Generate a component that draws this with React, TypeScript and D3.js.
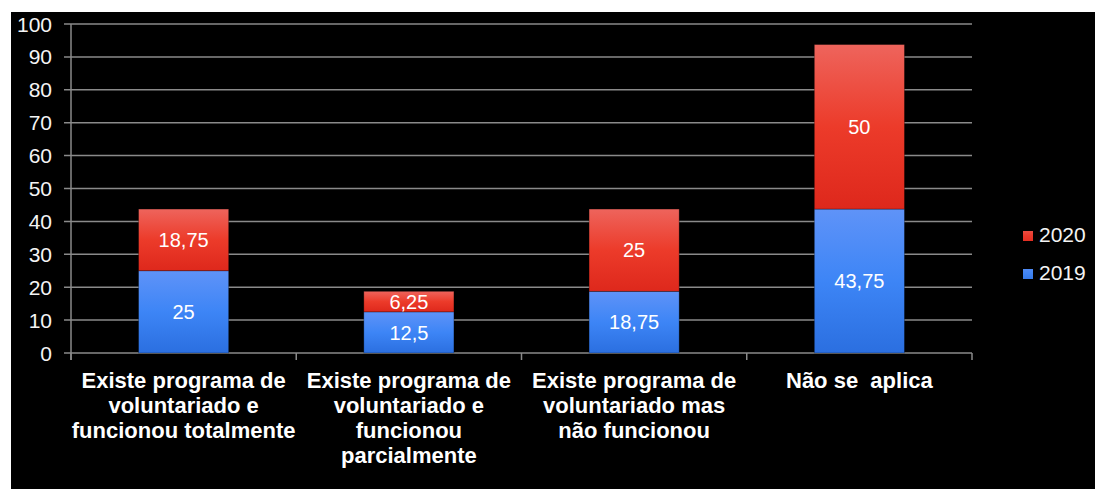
import React from "react";
import * as d3 from "d3";

const categories = ["cat1", "cat2", "cat3", "cat4"];
const categoryLines: string[][] = [
  ["Existe programa de", "voluntariado e", "funcionou totalmente"],
  ["Existe programa de", "voluntariado e", "funcionou", "parcialmente"],
  ["Existe programa de", "voluntariado mas", "não funcionou"],
  ["Não se  aplica"],
];
const values2019 = [25, 12.5, 18.75, 43.75];
const values2020 = [18.75, 6.25, 25, 50];
const seriesNames = ["2019", "2020"];
const yTicks = [0, 10, 20, 30, 40, 50, 60, 70, 80, 90, 100];

const W = 1095;
const H = 489;
const plotLeft = 71;
const plotRight = 972;
const plotTop = 24;
const plotBottom = 353;
const FONT = "'Liberation Sans', Arial, sans-serif";

export default function App() {
  const x = d3.scaleBand<string>().domain(categories).range([plotLeft, plotRight]).padding(0);
  const y = d3.scaleLinear().domain([0, 100]).range([plotBottom, plotTop]);
  const barW = x.step() * 0.4;

  const rows = categories.map((c, i) => ({ cat: c, "2019": values2019[i], "2020": values2020[i] }));
  const stacked = d3.stack<any>().keys(seriesNames)(rows);

  const fmt = (v: number) => String(v).replace(".", ",");
  const gradIds: Record<string, string> = { "2019": "gBlue", "2020": "gRed" };
  const legendColor: Record<string, string> = { "2019": "#3f82f0", "2020": "#e8352a" };

  const boundaries = [...categories.map((c) => x(c)!), plotRight];

  return (
    <svg
      width={W}
      height={H}
      style={{ position: "absolute", left: 0, top: 0, display: "block" }}
      fontFamily={FONT}
    >
      <defs>
        <linearGradient id="gBlue" x1="0" y1="0" x2="0" y2="1">
          <stop offset="0" stopColor="#5f93f8" />
          <stop offset="0.5" stopColor="#3d85f6" />
          <stop offset="1" stopColor="#2b6fe0" />
        </linearGradient>
        <linearGradient id="gRed" x1="0" y1="0" x2="0" y2="1">
          <stop offset="0" stopColor="#ee645c" />
          <stop offset="0.5" stopColor="#ec3b2a" />
          <stop offset="1" stopColor="#de281c" />
        </linearGradient>
      </defs>
      <rect x={0} y={0} width={W} height={H} fill="#ffffff" />
      <rect x={11} y={12} width={W - 11} height={H - 12} fill="#000000" />

      {/* gridlines and y ticks */}
      {yTicks.map((t) => (
        <g key={t}>
          <line
            x1={plotLeft - 7}
            x2={t === 0 ? plotLeft : plotRight}
            y1={y(t)}
            y2={y(t)}
            stroke="#8a8a8a"
            strokeWidth={1.5}
          />
          <text
            x={52}
            y={y(t)}
            dy="0.36em"
            textAnchor="end"
            fontSize={21}
            fill="#f4f4f4"
          >
            {t}
          </text>
        </g>
      ))}

      {/* axes */}
      <line x1={plotLeft} x2={plotLeft} y1={plotTop} y2={plotBottom + 7} stroke="#8a8a8a" strokeWidth={1.5} />
      <line x1={plotLeft} x2={plotRight} y1={plotBottom} y2={plotBottom} stroke="#8a8a8a" strokeWidth={1.5} />
      {boundaries.map((b, i) => (
        <line key={i} x1={b} x2={b} y1={plotBottom} y2={plotBottom + 7} stroke="#8a8a8a" strokeWidth={1.5} />
      ))}

      {/* bars */}
      {stacked.map((s) => (
        <g key={s.key}>
          {s.map((d, i) => {
            const cx = x(categories[i])! + x.step() / 2;
            const y0 = y(d[0]);
            const y1 = y(d[1]);
            return (
              <g key={i}>
                <rect
                  x={cx - barW / 2}
                  y={y1}
                  width={barW}
                  height={y0 - y1}
                  fill={`url(#${gradIds[s.key]})`}
                  stroke="rgba(0,0,0,0.35)"
                  strokeWidth={0.8}
                />
                <text
                  x={cx}
                  y={(y0 + y1) / 2}
                  dy="0.36em"
                  textAnchor="middle"
                  fontSize={20}
                  fill="#ffffff"
                >
                  {fmt(d[1] - d[0])}
                </text>
              </g>
            );
          })}
        </g>
      ))}

      {/* category labels */}
      {categories.map((c, i) => {
        const cx = x(c)! + x.step() / 2;
        return (
          <text
            key={c}
            x={cx}
            textAnchor="middle"
            fontSize={22}
            fontWeight="bold"
            fill="#ffffff"
            style={{ whiteSpace: "pre" }}
          >
            {categoryLines[i].map((ln, j) => (
              <tspan key={j} x={cx} y={388 + j * 25}>
                {ln}
              </tspan>
            ))}
          </text>
        );
      })}

      {/* legend */}
      {["2020", "2019"].map((k, i) => (
        <g key={k}>
          <rect x={1023} y={231 + i * 38} width={10} height={10} fill={`url(#${gradIds[k]})`} />
          <rect x={1023} y={231 + i * 38} width={10} height={10} fill={legendColor[k]} opacity={0.5} />
          <text x={1039} y={242 + i * 38} fontSize={21} fill="#f4f4f4">
            {k}
          </text>
        </g>
      ))}
    </svg>
  );
}
